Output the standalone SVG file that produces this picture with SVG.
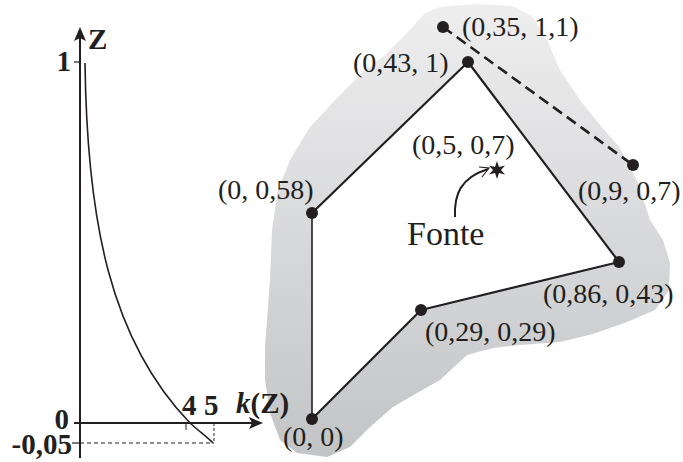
<svg xmlns="http://www.w3.org/2000/svg" width="683" height="462" viewBox="0 0 683 462">
<style>
.lbl{font-family:"Liberation Serif","Times New Roman",serif;font-size:28px;fill:#231f20}
.ax{font-family:"Liberation Serif","Times New Roman",serif;font-size:29px;font-weight:bold;fill:#231f20}
.ln{stroke:#231f20;fill:none}
.dot{fill:#231f20}
</style>
<defs>
<linearGradient id="g" x1="0" y1="5" x2="0" y2="457" gradientUnits="userSpaceOnUse">
<stop offset="0" stop-color="#eeeeef"/>
<stop offset="1" stop-color="#c3c4c6"/>
</linearGradient>
</defs>
<rect width="683" height="462" fill="#fff"/>
<g id="region">
<polygon fill="url(#g)" stroke="none" points="425,13 440,7 475,4 513,6 533,17 547,40 560,70 580,100 600,125 620,148 638,183 650,220 663,240 670,263 669,290 655,310 627,322 593,334 560,342 520,345 493,348 467,355 440,380 417,393 393,407 370,427 350,447 327,457 297,453 280,440 270,413 265,380 265,347 270,280 272,230 278,190 290,160 310,127 340,95 363,72 385,55 407,33"/>
<polygon fill="#fff" points="312,213 468,62 620,262 421,310 312,419"/>
</g>
<g id="chart">
<line class="ln" x1="80" y1="38" x2="80" y2="458" stroke-width="2"/>
<path d="M80,27 L86,41 L80,38 L74,41 Z" fill="#231f20"/>
<line class="ln" x1="74" y1="423" x2="253" y2="423" stroke-width="2"/>
<path d="M263,423 L249,429 L252,423 L249,417 Z" fill="#231f20"/>
<line class="ln" x1="74" y1="62" x2="80" y2="62" stroke-width="1.2"/>
<line class="ln" x1="72" y1="443" x2="80" y2="443" stroke-width="1.2"/>
<line class="ln" x1="186" y1="423" x2="186" y2="430" stroke-width="1"/>
<line class="ln" x1="214" y1="423" x2="214" y2="443" stroke-width="1" stroke-dasharray="3,2"/>
<line class="ln" x1="80" y1="443" x2="214" y2="443" stroke-width="1" stroke-dasharray="4,3"/>
<path class="ln" d="M85,63 C87,220 110,340 190,423 C200,432 207,437 213,443" stroke-width="1.6"/>
<text class="ax" x="88" y="49">Z</text>
<text class="ax" x="71" y="71" text-anchor="end">1</text>
<text class="ax" x="69" y="429" text-anchor="end">0</text>
<text class="ax" x="72" y="454" text-anchor="end">-0,05</text>
<text class="ax" x="182" y="415">4</text>
<text class="ax" x="204" y="415">5</text>
<text class="ax" x="236" y="413"><tspan font-style="italic">k</tspan>(Z)</text>
</g>
<g id="connectors">
<path class="ln" d="M312,419 L312,213" stroke-width="1.6"/>
<path class="ln" d="M312,213 L468,62 L619,262 L421,310 L312,419" stroke-width="2.2" stroke-linejoin="round"/>
<line class="ln" x1="443" y1="27" x2="633" y2="165" stroke-width="2.6" stroke-dasharray="11,6"/>
<path class="ln" d="M455,217 C454,195 460,178 488,169" stroke-width="2"/>
<polyline class="ln" points="479,167 489,168 482,177" stroke-width="1.2"/>
</g>
<g id="n1"><circle class="dot" cx="312" cy="419" r="6"/><text class="lbl" x="283" y="446">(0, 0)</text></g>
<g id="n2"><circle class="dot" cx="312" cy="213" r="6"/><text class="lbl" x="218" y="199">(0, 0,58)</text></g>
<g id="n3"><circle class="dot" cx="468" cy="62" r="6"/><text class="lbl" x="353" y="72">(0,43, 1)</text></g>
<g id="n4"><circle class="dot" cx="619" cy="262" r="6"/><text class="lbl" x="543" y="303">(0,86, 0,43)</text></g>
<g id="n5"><circle class="dot" cx="421" cy="310" r="6"/><text class="lbl" x="425" y="341">(0,29, 0,29)</text></g>
<g id="n6"><circle class="dot" cx="443" cy="27" r="6"/><text class="lbl" x="462" y="36">(0,35, 1,1)</text></g>
<g id="n7"><circle class="dot" cx="633" cy="165" r="6"/><text class="lbl" x="578" y="200">(0,9, 0,7)</text></g>
<g id="source">
<polygon class="dot" points="497,161 499,167 505,165.5 501,170 505,174.5 499,173 497,179 495,173 489,174.5 493,170 489,165.5 495,167"/>
<text class="lbl" x="412" y="154">(0,5, 0,7)</text>
<text class="lbl" x="407" y="245" style="font-size:34px">Fonte</text>
</g>
</svg>
